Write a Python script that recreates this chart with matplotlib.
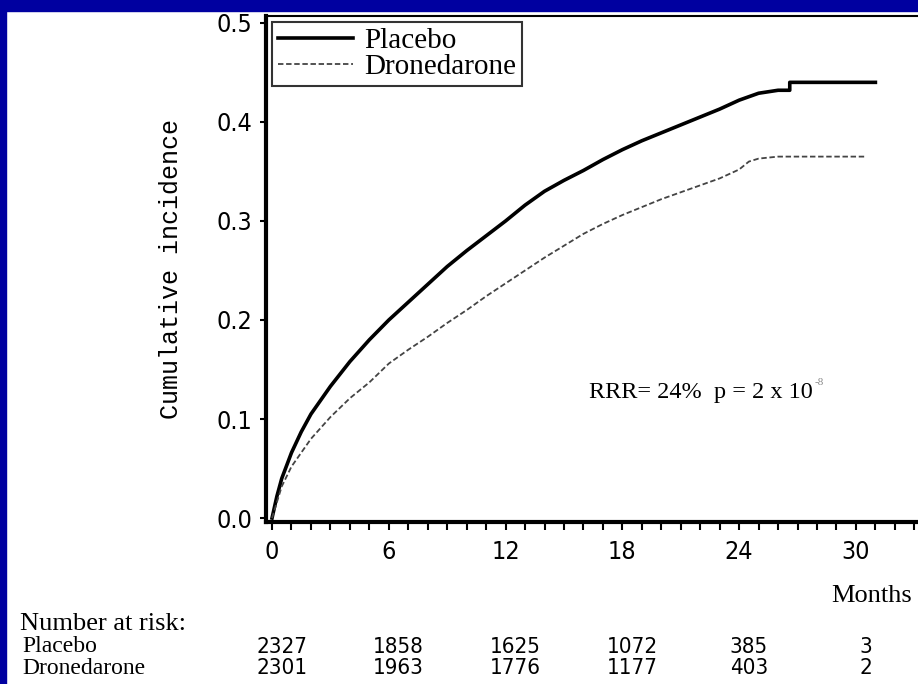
import matplotlib
matplotlib.use('Agg')
import matplotlib.pyplot as plt
from matplotlib.patches import Rectangle
from matplotlib.ticker import MultipleLocator, FormatStrFormatter
import matplotlib.transforms as mtransforms

# Kaplan-Meier cumulative incidence
placebo_months = [0, 0.25, 0.5, 1, 1.5, 2, 3, 4, 5, 6, 7, 8, 9, 10, 11, 12, 13, 14, 15,
                  16, 17, 18, 19, 20, 21, 22, 23, 24, 25, 26, 26.6, 26.6, 31]
placebo_inc = [0, 0.022, 0.04, 0.066, 0.087, 0.105, 0.133, 0.158, 0.18, 0.2, 0.218, 0.236,
               0.254, 0.27, 0.285, 0.3, 0.316, 0.33, 0.341, 0.351, 0.362, 0.372, 0.381,
               0.389, 0.397, 0.405, 0.413, 0.422, 0.429, 0.432, 0.432, 0.44, 0.44]

drone_months = [0, 0.25, 0.5, 1, 1.5, 2, 3, 4, 5, 6, 7, 8, 9, 10, 11, 12, 13, 14, 15, 16,
                17, 18, 19, 20, 21, 22, 23, 24, 24.5, 25, 26, 30.5]
drone_inc = [0, 0.016, 0.032, 0.052, 0.066, 0.08, 0.102, 0.121, 0.137, 0.156, 0.17, 0.183,
             0.197, 0.21, 0.224, 0.237, 0.25, 0.263, 0.275, 0.287, 0.297, 0.306, 0.314,
             0.322, 0.329, 0.336, 0.343, 0.352, 0.36, 0.363, 0.365, 0.365]

risk_months = [0, 6, 12, 18, 24, 30]
risk_placebo = ['2327', '1858', '1625', '1072', '385', '3']
risk_drone = ['2301', '1963', '1776', '1177', '403', '2']

SERIF = ['Liberation Serif', 'DejaVu Serif']
MONO = ['Liberation Mono', 'DejaVu Sans Mono']
BLUE = '#0000a0'

fig = plt.figure(figsize=(9.18, 6.84), dpi=100)
fig.patch.set_facecolor('white')
# blue slide frame (top band and left band)
fig.patches.append(Rectangle((0, 1 - 11 / 684), 1, 11 / 684, transform=fig.transFigure,
                             color=BLUE, zorder=0))
fig.patches.append(Rectangle((0, 0), 6 / 918, 1, transform=fig.transFigure,
                             color=BLUE, zorder=0))

ax = fig.add_axes([266 / 918, 1 - 522 / 684, 660 / 918, (522 - 16) / 684])
ax.plot(placebo_months, placebo_inc, color='black', linewidth=2.6, label='Placebo')
ax.plot(drone_months, drone_inc, color='#444444', linewidth=1.3, linestyle=(0, (3, 1.5)),
        label='Dronedarone')

ax.set_xlim(-0.31, 33.6)
ax.set_ylim(-0.004, 0.507)
ax.xaxis.set_major_locator(MultipleLocator(6))
ax.xaxis.set_minor_locator(MultipleLocator(1))
ax.yaxis.set_major_locator(MultipleLocator(0.1))
ax.yaxis.set_major_formatter(FormatStrFormatter('%.1f'))

for s in ['left', 'bottom']:
    ax.spines[s].set_linewidth(3)
ax.spines['top'].set_linewidth(1.5)
ax.spines['right'].set_visible(False)
ax.tick_params(axis='x', which='both', direction='out', length=6, width=1.5, pad=7)
ax.tick_params(axis='y', which='major', direction='out', length=4, width=1.5, pad=6)
for lbl in ax.get_xticklabels() + ax.get_yticklabels():
    lbl.set_family('DejaVu Sans')
    lbl.set_fontstretch('condensed')
    lbl.set_fontsize(18)

ax.set_ylabel('Cumulative incidence', family=MONO, fontsize=18, labelpad=24)

leg = ax.legend(loc='upper left', bbox_to_anchor=(0.0, 1.0), frameon=True, fancybox=False,
                prop={'family': SERIF, 'size': 21}, handlelength=2.6, handletextpad=0.35,
                labelspacing=0.0, borderpad=0.2, borderaxespad=0.2)
leg.get_frame().set_edgecolor('black')
leg.get_frame().set_linewidth(1.5)

rrr = ax.text(16.3, 0.127, 'RRR= 24%  p = 2 x 10', family=SERIF, fontsize=17.5,
              ha='left', va='center')
ax.annotate('-8', xy=(1.0, 0.75), xycoords=rrr, xytext=(1, 0), textcoords='offset points',
            family=SERIF, fontsize=8, color='#888888', va='bottom', ha='left')

# number at risk table below the axis
trans = mtransforms.blended_transform_factory(ax.transData, fig.transFigure)
fig.text(912 / 918, 1 - 596 / 684, 'Months', family=SERIF, fontsize=19, ha='right',
         va='center')
fig.text(20 / 918, 1 - 624 / 684, 'Number at risk:', family=SERIF, fontsize=19, ha='left',
         va='center')
fig.text(22 / 918, 1 - 647 / 684, 'Placebo', family=SERIF, fontsize=17, ha='left',
         va='center')
fig.text(22 / 918, 1 - 668 / 684, 'Dronedarone', family=SERIF, fontsize=17, ha='left',
         va='center')
for m, p, d in zip(risk_months, risk_placebo, risk_drone):
    ax.text(m + 0.5, 1 - 647 / 684, p, transform=trans, family='DejaVu Sans',
            fontstretch='condensed', fontsize=16, ha='center', va='center')
    ax.text(m + 0.5, 1 - 668 / 684, d, transform=trans, family='DejaVu Sans',
            fontstretch='condensed', fontsize=16, ha='center', va='center')

fig.savefig('out.png', dpi=100)
